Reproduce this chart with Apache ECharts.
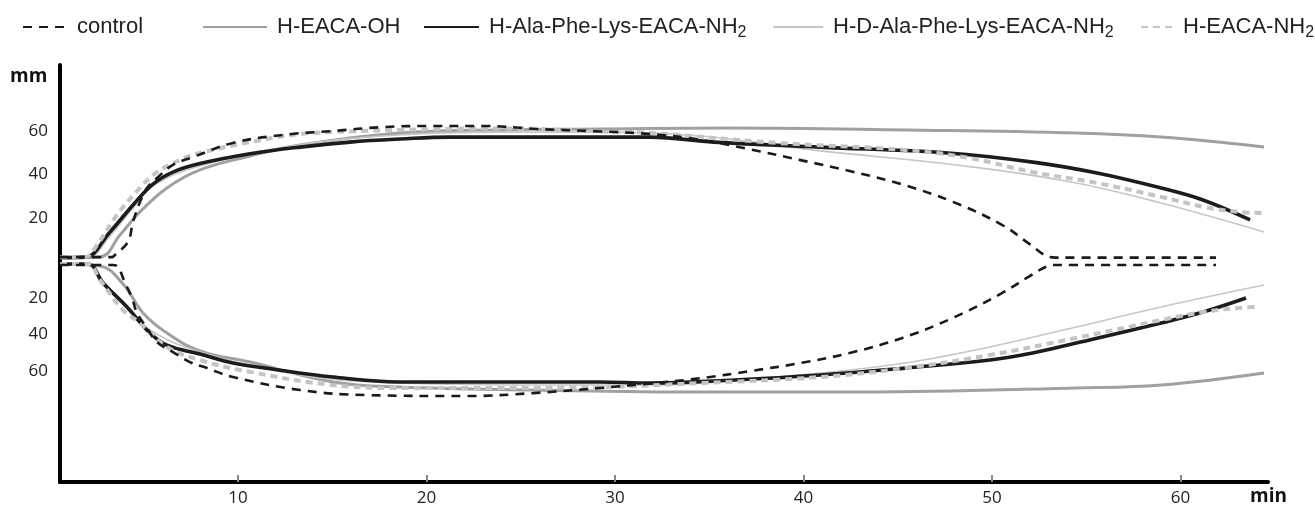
<!DOCTYPE html>
<html>
<head>
<meta charset="utf-8">
<script src="https://cdn.jsdelivr.net/npm/echarts@6/dist/echarts.min.js"></script>
<style>
  html, body { margin: 0; padding: 0; background: #fff; }
  #chart { width: 1315px; height: 510px; }
</style>
</head>
<body>
<div id="chart"></div>
<script>
// ---- data (time in min, amplitude in mm) ----
const seriesNames = ['control', 'H-EACA-OH', 'H-Ala-Phe-Lys-EACA-NH2', 'H-D-Ala-Phe-Lys-EACA-NH2', 'H-EACA-NH2'];
const xTicks = [10, 20, 30, 40, 50, 60];
const yTicks = [20, 40, 60];

const controlUpper = [[0.56,2.0],[3.32,2.0],[3.47,3.0],[4.16,9.0],[4.43,18.2],[4.80,27.4],[5.17,33.8],[5.70,38.4],[6.55,44.4],[7.61,48.0],[9.73,54.5],[12.39,58.2],[15.04,60.0],[17.69,61.8],[20.34,62.3],[23.00,62.3],[24.80,61.6],[25.65,61.0],[29.20,59.8],[31.86,58.6],[34.50,56.0],[37.20,51.5],[39.90,46.5],[42.50,41.5],[45.20,35.5],[47.90,27.5],[50.50,17.0],[52.00,8.0],[53.00,2.2],[53.40,1.8],[61.88,1.8]];
const controlLower = [[0.56,1.9],[3.32,1.9],[3.58,2.5],[4.01,11.8],[4.38,20.0],[4.64,28.2],[5.17,36.4],[5.70,44.1],[6.55,49.6],[7.45,55.1],[8.36,58.4],[9.73,63.3],[13.29,70.4],[16.84,73.2],[22.15,73.7],[25.65,72.1],[29.20,69.3],[31.86,66.8],[34.50,64.0],[37.20,60.0],[39.90,55.5],[42.50,50.0],[45.20,42.0],[47.90,31.0],[50.50,17.5],[52.00,8.0],[53.00,2.4],[53.40,1.9],[61.88,1.9]];

const eacaOhUpper = [[0.56,1.8],[2.68,2.1],[3.74,12.2],[4.80,22.8],[6.23,33.8],[7.98,42.1],[10.64,48.5],[13.29,53.6],[18.59,59.1],[23.90,60.5],[29.20,60.9],[35.94,61.4],[45.44,60.5],[54.46,59.1],[58.97,57.2],[64.43,52.6]];
const eacaOhLower = [[0.56,1.4],[2.68,2.5],[3.90,12.3],[4.96,28.2],[6.23,39.2],[7.98,49.0],[10.64,55.1],[15.04,66.0],[18.59,68.8],[25.65,70.4],[34.51,71.5],[43.16,71.5],[54.46,69.3],[58.97,67.7],[64.43,61.1]];

const alaUpper = [[0.56,1.8],[1.88,2.0],[3.21,13.6],[4.43,26.0],[5.49,35.6],[6.55,41.1],[7.98,45.0],[10.64,49.5],[13.29,52.6],[15.94,54.9],[18.59,56.3],[21.25,57.2],[23.90,57.2],[29.20,57.2],[31.86,57.2],[35.25,54.9],[40.88,52.6],[47.66,49.9],[52.17,45.7],[55.57,40.7],[58.97,33.8],[61.19,28.3],[63.69,19.1]];
const alaLower = [[0.56,1.4],[2.04,1.4],[2.84,11.8],[4.11,24.9],[5.33,39.2],[6.23,45.8],[7.98,50.7],[9.73,55.6],[11.54,58.5],[15.04,63.3],[18.59,66.0],[29.20,66.0],[31.86,66.6],[36.37,64.9],[40.88,62.2],[45.38,58.4],[49.89,54.0],[52.17,50.1],[54.46,44.7],[58.97,33.7],[61.19,27.7],[63.47,20.0]];

const dAlaUpper = [[0.56,1.8],[2.04,2.0],[3.21,11.7],[4.43,24.6],[5.49,34.7],[7.98,43.9],[13.29,53.6],[18.59,58.2],[23.90,59.5],[29.20,59.5],[34.51,57.7],[40.45,51.3],[49.04,43.4],[54.46,36.1],[58.97,26.9],[64.43,13.6]];
const dAlaLower = [[0.56,1.4],[2.04,1.4],[2.94,11.8],[4.27,26.6],[5.33,37.5],[7.98,49.6],[13.29,62.2],[18.59,66.6],[26.5,67.7],[31.86,67.7],[36.37,64.9],[40.88,61.1],[45.38,55.6],[49.89,46.8],[54.46,35.9],[58.97,24.9],[64.43,12.9]];

const eacaNh2Upper = [[0.56,2.0],[1.88,2.0],[2.52,7.6],[3.58,21.4],[4.80,33.8],[5.70,41.1],[6.92,46.7],[7.98,49.9],[10.64,54.9],[13.29,58.6],[15.94,59.8],[18.59,60.5],[23.90,61.2],[29.20,59.8],[31.86,59.1],[38.65,54.5],[45.38,51.3],[48.78,47.6],[52.17,41.1],[55.57,36.1],[58.97,29.7],[61.25,25.1],[63.05,22.8],[64.43,22.3]];
const eacaNh2Lower = [[0.56,1.4],[2.04,1.4],[2.68,10.1],[3.90,26.6],[4.80,33.7],[6.23,46.8],[7.98,54.0],[10.64,60.5],[15.04,67.7],[18.59,69.3],[23.90,69.3],[29.20,68.8],[34.51,66.6],[40.88,63.3],[45.38,58.4],[49.89,51.2],[54.46,41.9],[58.97,32.1],[61.19,27.7],[62.99,25.5],[64.11,24.9]];

// ---- layout ----
const X_MIN = 0.557, X_MAX = 64.64;
const UP_MAX = 90.34, LOW_MAX = 120.8;
const labelFont = '"Open Sans", "Noto Sans", sans-serif';

const styles = {
  'control':                   { color: '#1a1a1a', width: 2.6, type: [9, 7], z: 6 },
  'H-EACA-OH':                 { color: '#a0a0a0', width: 3,   type: 'solid', z: 2 },
  'H-Ala-Phe-Lys-EACA-NH2':    { color: '#1c1c1c', width: 3.6, type: 'solid', z: 4 },
  'H-D-Ala-Phe-Lys-EACA-NH2':  { color: '#c6c6c6', width: 1.6, type: 'solid', z: 3 },
  'H-EACA-NH2':                { color: '#c4c4c4', width: 4,   type: [7, 5], z: 5 }
};
const dataMap = {
  'control': [controlUpper, controlLower],
  'H-EACA-OH': [eacaOhUpper, eacaOhLower],
  'H-Ala-Phe-Lys-EACA-NH2': [alaUpper, alaLower],
  'H-D-Ala-Phe-Lys-EACA-NH2': [dAlaUpper, dAlaLower],
  'H-EACA-NH2': [eacaNh2Upper, eacaNh2Lower]
};

const series = [];
seriesNames.forEach(name => {
  const st = styles[name];
  [0, 1].forEach(g => {
    series.push({
      name: name, type: 'line', xAxisIndex: g, yAxisIndex: g,
      data: dataMap[name][g], symbol: 'none', smooth: 0.4,
      z: st.z, silent: true, animation: false,
      itemStyle: { color: st.color },
      lineStyle: { color: st.color, width: st.width, type: st.type, cap: 'butt' }
    });
  });
});

// legends: one per entry for exact placement
const legendSpec = [
  { name: 'control', left: 17, w: 44 },
  { name: 'H-EACA-OH', left: 197, w: 64 },
  { name: 'H-Ala-Phe-Lys-EACA-NH2', left: 418, w: 55 },
  { name: 'H-D-Ala-Phe-Lys-EACA-NH2', left: 767, w: 50 },
  { name: 'H-EACA-NH2', left: 1135, w: 32 }
];
const legends = legendSpec.map(l => ({
  data: [l.name], left: l.left, top: 8, orient: 'horizontal',
  itemWidth: l.w, itemHeight: 14, selectedMode: false,
  itemStyle: { opacity: 0 },
  formatter: n => n.replace('NH2', 'NH{sub|2}'),
  textStyle: {
    fontFamily: '"Liberation Sans", Arial, sans-serif', fontSize: 22, color: '#222',
    lineHeight: 28, padding: [0, 0, 0, 5],
    rich: { sub: { fontFamily: '"Liberation Sans", Arial, sans-serif', fontSize: 16, color: '#222', lineHeight: 28, padding: [12, 0, 0, 0], verticalAlign: 'bottom' } }
  }
}));

const chart = echarts.init(document.getElementById('chart'), null, { renderer: 'canvas' });
chart.setOption({
  animation: false,
  backgroundColor: '#ffffff',
  legend: legends,
  grid: [
    { left: 60, top: 65, width: 1208, height: 196.5 },
    { left: 60, top: 261.5, width: 1208, height: 220.5 }
  ],
  xAxis: [
    { gridIndex: 0, type: 'value', min: X_MIN, max: X_MAX, show: false },
    { gridIndex: 1, type: 'value', min: X_MIN, max: X_MAX,
      axisLine: { show: true, onZero: false, lineStyle: { color: '#000', width: 4 } },
      axisTick: { show: true, inside: true, length: 7, customValues: xTicks, lineStyle: { color: '#888', width: 2 } },
      axisLabel: { customValues: xTicks, fontSize: 17, color: '#222', margin: 8, fontFamily: labelFont },
      splitLine: { show: false } }
  ],
  yAxis: [
    { gridIndex: 0, type: 'value', min: 0, max: UP_MAX,
      axisLine: { show: true, onZero: false, lineStyle: { color: '#000', width: 4 } },
      axisTick: { show: false }, splitLine: { show: false },
      axisLabel: { customValues: yTicks, fontSize: 17, color: '#222', margin: 12, fontFamily: labelFont } },
    { gridIndex: 1, type: 'value', min: 0, max: LOW_MAX, inverse: true,
      axisLine: { show: true, onZero: false, lineStyle: { color: '#000', width: 4 } },
      axisTick: { show: false }, splitLine: { show: false },
      axisLabel: { customValues: yTicks, fontSize: 17, color: '#222', margin: 12, fontFamily: labelFont } }
  ],
  graphic: [
    { type: 'text', left: 10, top: 67, style: { text: 'mm', font: 'bold 19px "Open Sans", sans-serif', fill: '#111' } },
    { type: 'text', left: 1250, top: 487, style: { text: 'min', font: 'bold 19px "Open Sans", sans-serif', fill: '#111' } }
  ],
  series: series
});
</script>
</body>
</html>
